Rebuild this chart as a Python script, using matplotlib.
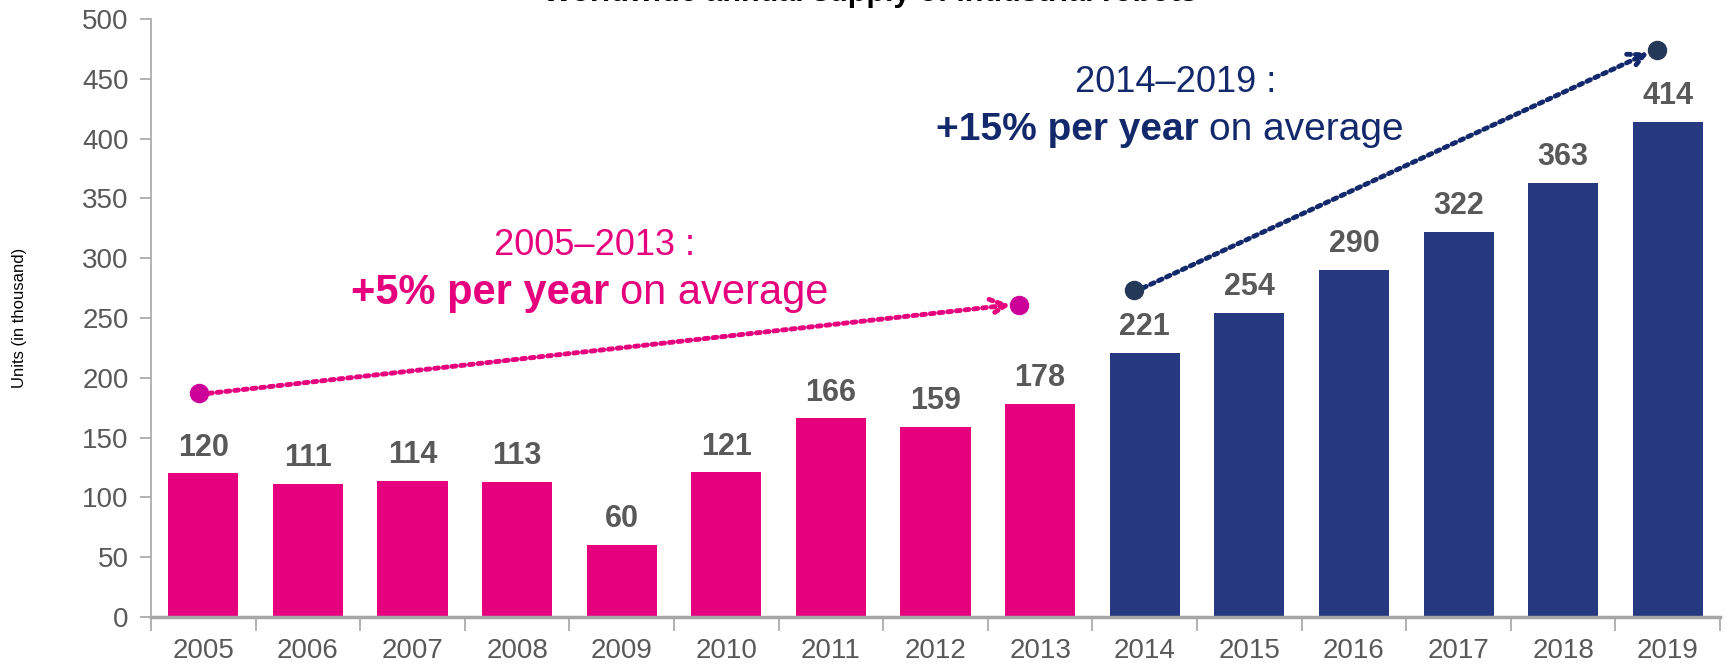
import numpy as np
import matplotlib.pyplot as plt

years = ['2005', '2006', '2007', '2008', '2009', '2010', '2011', '2012',
         '2013', '2014', '2015', '2016', '2017', '2018', '2019']
units = [120, 111, 114, 113, 60, 121, 166, 159, 178,
         221, 254, 290, 322, 363, 414]
first_period = 9  # 2005-2013 pink, then navy

pink = '#E6007E'
navy = '#263880'
dark_navy = '#13296B'
grey = '#595959'

plt.rcParams['font.family'] = ['Liberation Sans', 'DejaVu Sans']

fig = plt.figure(figsize=(17.27, 6.64), dpi=100)
ax = fig.add_axes([0.0874, 0.0708, 0.9086, 0.9006])

x = np.arange(len(years))
colors = [pink] * first_period + [navy] * (len(years) - first_period)
ax.bar(x, units, width=0.67, color=colors, zorder=2)

for xi, v in zip(x, units):
    ax.text(xi, v + 9, str(v), ha='center', va='bottom', fontsize=22,
            fontweight='bold', color=grey)

ax.set_xlim(-0.5, len(years) - 0.5)
ax.set_ylim(0, 500)
ax.set_yticks(np.arange(0, 501, 50))
ax.set_xticks(x)
ax.set_xticklabels(years)
ax.set_xticks(np.arange(-0.5, len(years), 1), minor=True)
ax.tick_params(axis='x', which='major', length=0, pad=15, labelsize=20, labelcolor=grey)
ax.tick_params(axis='x', which='minor', length=10, width=1.2, color='#A6A6A6')
ax.tick_params(axis='y', length=8, width=1.2, color='#A6A6A6', labelsize=20,
               labelcolor=grey, pad=8)

for s in ['top', 'right']:
    ax.spines[s].set_visible(False)
ax.spines['left'].set_color('#A6A6A6')
ax.spines['left'].set_linewidth(1.2)
ax.spines['bottom'].set_color('#A6A6A6')
ax.spines['bottom'].set_linewidth(2.5)

ax.set_ylabel('Units (in thousand)', fontsize=12, color='black', labelpad=40)

# growth arrows (dotted)
dots = (0, (0.8, 1.0))
ax.annotate('', xy=(7.72, 261), xytext=(0.05, 187),
            arrowprops=dict(arrowstyle='->', color=pink, lw=3.5, linestyle=dots,
                            mutation_scale=28, shrinkA=0, shrinkB=0), zorder=3)
ax.plot([-0.04, 7.8], [187, 261], 'o', color='#CC0099', markersize=13, zorder=4)

ax.annotate('', xy=(13.82, 472), xytext=(8.98, 275),
            arrowprops=dict(arrowstyle='->', color=dark_navy, lw=3.5, linestyle=dots,
                            mutation_scale=28, shrinkA=0, shrinkB=0), zorder=3)
ax.plot([8.9, 13.9], [273, 474], 'o', color='#243858', markersize=13, zorder=4)

# growth texts
ax.text(3.74, 311, '2005–2013 :', ha='center', va='center', fontsize=26, color=pink)
t1 = ax.text(3.88, 271, '+5% per year', ha='right', va='center', fontsize=30,
             fontweight='bold', color=pink)
ax.annotate('on average', xy=(1, 0.5), xycoords=t1, xytext=(8, 0),
            textcoords='offset points', ha='left', va='center', fontsize=30, color=pink)

ax.text(9.3, 447, '2014–2019 :', ha='center', va='center', fontsize=26, color=dark_navy)
t2 = ax.text(9.52, 407, '+15% per year', ha='right', va='center', fontsize=28,
             fontweight='bold', color=dark_navy)
ax.annotate('on average', xy=(1, 0.5), xycoords=t2, xytext=(7, 0),
            textcoords='offset points', ha='left', va='center', fontsize=28,
            color=dark_navy)

# title sits mostly above the canvas, as in the reference
fig.text(0.504, 0.999, 'Worldwide annual supply of industrial robots', ha='center',
         va='baseline', fontsize=22, fontweight='bold', color='black')

fig.savefig('out.png', dpi=100)
